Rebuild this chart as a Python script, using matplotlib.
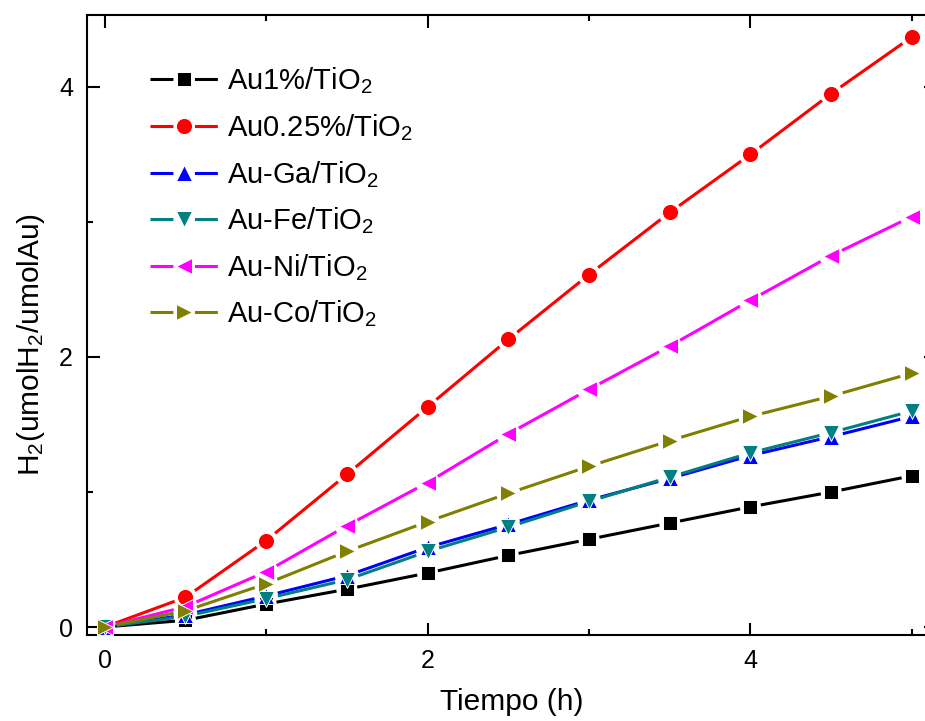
import matplotlib
matplotlib.use("Agg")
import numpy as np
import matplotlib.pyplot as plt
from matplotlib.lines import Line2D
from matplotlib.ticker import MultipleLocator

plt.rcParams['font.family'] = ['Liberation Sans', 'DejaVu Sans']
plt.rcParams['mathtext.fontset'] = 'custom'
plt.rcParams['mathtext.rm'] = 'Liberation Sans'
plt.rcParams['mathtext.default'] = 'regular'
plt.rcParams['lines.scale_dashes'] = False

# Reaction time (h)
tiempo = [0, 0.5, 1, 1.5, 2, 2.5, 3, 3.5, 4, 4.5, 5]

# H2 produced per catalyst (umol H2 / umol Au)
au1 = [0, 0.05, 0.17, 0.28, 0.40, 0.53, 0.65, 0.77, 0.89, 1.00, 1.12]
au025 = [0, 0.22, 0.64, 1.13, 1.63, 2.13, 2.61, 3.07, 3.50, 3.95, 4.37]
au_ga = [0, 0.09, 0.23, 0.38, 0.59, 0.76, 0.94, 1.10, 1.27, 1.41, 1.56]
au_fe = [0, 0.08, 0.21, 0.35, 0.56, 0.74, 0.93, 1.11, 1.29, 1.44, 1.60]
au_ni = [0, 0.15, 0.41, 0.75, 1.07, 1.43, 1.76, 2.08, 2.42, 2.75, 3.04]
au_co = [0, 0.12, 0.32, 0.56, 0.78, 0.99, 1.19, 1.38, 1.56, 1.71, 1.88]

labels = [r'Au1%/TiO$_2$', r'Au0.25%/TiO$_2$', r'Au-Ga/TiO$_2$',
          r'Au-Fe/TiO$_2$', r'Au-Ni/TiO$_2$', r'Au-Co/TiO$_2$']
series = [au1, au025, au_ga, au_fe, au_ni, au_co]
colors = ['#000000', '#FF0000', '#0000FF', '#008080', '#FF00FF', '#808000']
markers = ['s', 'o', '^', 'v', '<', '>']
msizes = [10.5, 11.6, 12.2, 12.2, 12.2, 12.2]
gaps_px = [10.5, 11.5, 12.0, 12.0, 12.0, 12.0]   # line break around each symbol

LW = 2.2

fig = plt.figure(figsize=(9.25, 7.21), dpi=100)
ax = fig.add_axes([0.094, 0.1193, 0.918, 0.86])
ax.set_xlim(-0.11, 5.15)
ax.set_ylim(-0.059, 4.533)


def gapped_line(x, y, gap):
    """Connecting segments that stop short of each symbol (in display px)."""
    pts = ax.transData.transform(np.column_stack([x, y]))
    out = []
    for p0, p1 in zip(pts[:-1], pts[1:]):
        d = p1 - p0
        L = np.hypot(*d)
        if L <= 2 * gap:
            continue
        u = d / L
        a = ax.transData.inverted().transform(p0 + u * gap)
        b = ax.transData.inverted().transform(p1 - u * gap)
        out += [a, b, [np.nan, np.nan]]
    out = np.array(out)
    return out[:, 0], out[:, 1]


handles = []
for i, (y, lab, c, m, ms, g) in enumerate(zip(series, labels, colors,
                                               markers, msizes, gaps_px)):
    gx, gy = gapped_line(tiempo, y, g)
    ax.plot(gx, gy, color=c, lw=LW, solid_capstyle='butt', zorder=2 + i)
    ax.plot(tiempo, y, ls='none', marker=m, markersize=ms, markerfacecolor=c,
            markeredgecolor='white', markeredgewidth=0.7, zorder=2.5 + i,
            clip_on=False)
    handles.append(Line2D([], [], color=c, lw=LW, marker=m, markersize=ms,
                          markerfacecolor=c, markeredgecolor='white',
                          markeredgewidth=0.7, dashes=(16.5, 15.5),
                          dash_capstyle='butt', label=lab))

ax.xaxis.set_major_locator(MultipleLocator(2))
ax.xaxis.set_minor_locator(MultipleLocator(1))
ax.yaxis.set_major_locator(MultipleLocator(2))
ax.yaxis.set_minor_locator(MultipleLocator(1))
ax.tick_params(which='both', direction='in', top=True, right=True, width=1.5,
               labelsize=18)
ax.tick_params(which='major', length=9)
ax.tick_params(which='minor', length=4.5)
ax.tick_params(axis='x', pad=10)
ax.tick_params(axis='y', pad=10)
for s in ax.spines.values():
    s.set_linewidth(1.5)

ax.set_xlabel('Tiempo (h)', fontsize=21.5, labelpad=11)
ax.set_ylabel(r'H$_2$(umolH$_2$/umolAu)', fontsize=21.5)
ax.yaxis.set_label_coords(-0.047, 0.468)

ax.legend(handles=handles, loc='upper left', bbox_to_anchor=(0.06, 0.937),
          frameon=False, fontsize=21, handlelength=2.33, handletextpad=0.31,
          labelspacing=0.54, borderaxespad=0)

fig.savefig('out.png', dpi=100)
